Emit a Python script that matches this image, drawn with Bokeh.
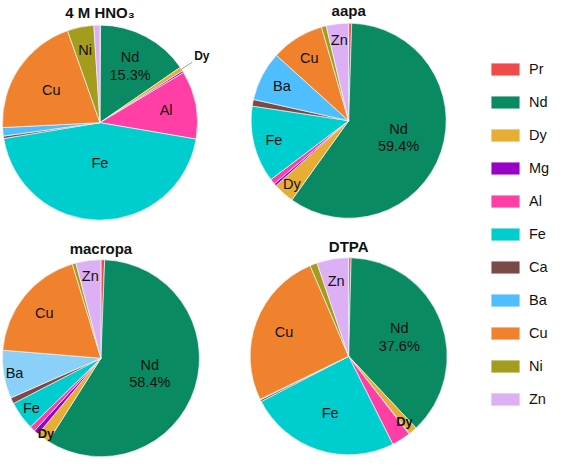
import numpy as np
from bokeh.plotting import figure
from bokeh.models import ColumnDataSource, Legend, LegendItem, Range1d
from bokeh.core.properties import value
from bokeh.embed import file_html
from bokeh.resources import INLINE

# ---------------- data (% of total metal content) ----------------
elements = ["Pr", "Nd", "Dy", "Mg", "Al", "Fe", "Ca", "Ba", "Cu", "Ni", "Zn"]
hno3    = [0.1, 15.3, 0.7, 0.3, 11.3, 44.7, 0.4, 1.4, 20.4, 4.4, 1.0]
aapa    = [0.5, 59.4, 3.5, 0.4, 0.9, 12.7, 1.1, 8.2, 8.8, 0.8, 3.7]
macropa = [0.6, 58.4, 2.0, 0.8, 0.9, 4.7, 1.0, 7.9, 19.0, 0.6, 4.1]
dtpa    = [0.4, 37.6, 1.4, 0.1, 3.1, 24.8, 0.3, 0.1, 25.8, 1.2, 5.2]
titles  = ["4 M HNO\u2083", "aapa", "macropa", "DTPA"]

# ---------------- styles / layout ----------------
colors = {"Pr": "#F04A4A", "Nd": "#0A8A62", "Dy": "#E6AE34", "Mg": "#9A00C8",
          "Al": "#FF3FA6", "Fe": "#00CDCD", "Ca": "#7A4A48", "Ba": "#4EBEFF",
          "Cu": "#F0822E", "Ni": "#A39C1C", "Zn": "#DDB0F5"}
color_override = {(2, "Ba"): "#8AD0F8"}
series = [hno3, aapa, macropa, dtpa]
centers = [(103, 346), (358, 348), (104, 104), (358, 106)]
radii = [100, 100, 101, 101]
label_frac = [
    {"Nd": 0.66, "Al": 0.69, "Fe": 0.41, "Cu": 0.60, "Ni": 0.76, "Dy": 1.25},
    {"Nd": 0.54, "Dy": 0.87, "Fe": 0.79, "Ba": 0.77, "Cu": 0.76, "Zn": 0.83},
    {"Nd": 0.52, "Dy": 0.95, "Fe": 0.87, "Ba": 0.89, "Cu": 0.74, "Zn": 0.84},
    {"Nd": 0.55, "Dy": 0.87, "Fe": 0.61, "Cu": 0.70, "Zn": 0.78},
]
FONT = "Liberation Sans"

p = figure(width=551, height=457, output_backend="svg", toolbar_location=None,
           x_range=Range1d(1, 566), y_range=Range1d(2, 471.5),
           min_border=0, outline_line_color=None)
p.axis.visible = False
p.grid.visible = False
p.background_fill_color = "white"

geo = []
for vals in series:
    cum = np.concatenate([[0.0], np.cumsum(vals)]) / float(sum(vals))
    geo.append(cum)

legend_items = []
for j, el in enumerate(elements):
    xs, ys, rs, sa, ea, cs = [], [], [], [], [], []
    for i in range(4):
        cum = geo[i]
        xs.append(centers[i][0]); ys.append(centers[i][1]); rs.append(radii[i])
        sa.append(np.pi / 2 - 2 * np.pi * cum[j + 1])
        ea.append(np.pi / 2 - 2 * np.pi * cum[j])
        cs.append(color_override.get((i, el), colors[el]))
    src = ColumnDataSource(dict(x=xs, y=ys, r=rs, start=sa, end=ea, color=cs))
    r = p.wedge(x="x", y="y", radius="r", start_angle="start", end_angle="end",
                fill_color="color", line_color="#F4F4F4", line_width=0.7, source=src)
    legend_items.append(LegendItem(label=el, renderers=[r], index=0))

lx, ly, lt, lsize, lweight = [], [], [], [], []
for i in range(4):
    cum = geo[i]
    cx, cy = centers[i]
    R = radii[i]
    for el, frac in label_frac[i].items():
        j = elements.index(el)
        mid = (cum[j] + cum[j + 1]) / 2
        ang = np.pi / 2 - 2 * np.pi * mid
        x = cx + frac * R * np.cos(ang)
        y = cy + frac * R * np.sin(ang)
        if el == "Nd":
            lx += [x, x]; ly += [y + 9, y - 9]
            lt += ["Nd", f"{series[i][j]:.1f}%"]
            lsize += ["14.5px", "14.5px"]; lweight += ["normal", "normal"]
        elif el == "Dy" and i != 1:
            lx.append(x); ly.append(y); lt.append("Dy")
            lsize.append("12px" if i == 0 else "13px"); lweight.append("bold")
            if i == 0:
                p.segment(x0=[cx + 1.0 * R * np.cos(ang)], y0=[cy + 1.0 * R * np.sin(ang)],
                          x1=[cx + 1.13 * R * np.cos(ang)], y1=[cy + 1.13 * R * np.sin(ang)],
                          line_color="#A0A0A0", line_width=1)
        else:
            lx.append(x); ly.append(y); lt.append(el)
            lsize.append("14.5px"); lweight.append("normal")

lab_src = ColumnDataSource(dict(x=lx, y=ly, t=lt, s=lsize, w=lweight))
p.text(x="x", y="y", text="t", source=lab_src, text_font=value(FONT),
       text_font_size="s", text_font_style="w", text_align="center",
       text_baseline="middle", text_color="#111111")

tx = [c[0] for c in centers]
ty = [c[1] + 113 for c in centers]
p.text(x=tx, y=ty, text=titles, text_font=value(FONT), text_font_size="15px",
       text_font_style="bold", text_align="center", text_baseline="middle",
       text_color="#111111")

legend = Legend(items=legend_items, location=(487, 50), orientation="vertical",
                glyph_width=36, glyph_height=16, label_height=16, spacing=17,
                label_standoff=6, padding=0, margin=0, border_line_color=None,
                background_fill_alpha=0, label_text_font=FONT,
                label_text_font_size="14.5px", label_text_color="#111111")
p.add_layout(legend)

open("out.html", "w").write(file_html(p, INLINE))
